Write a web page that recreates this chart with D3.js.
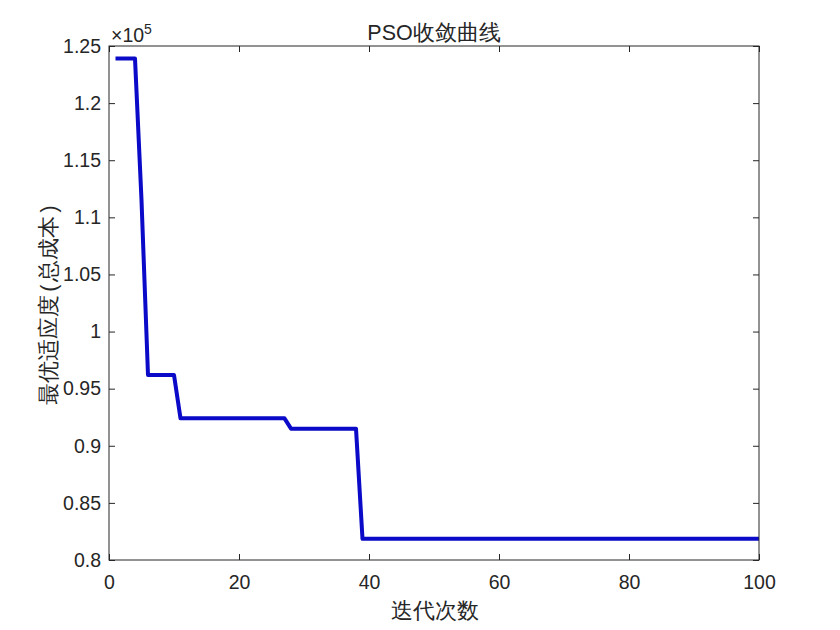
<!DOCTYPE html>
<html>
<head>
<meta charset="utf-8">
<script src="https://cdn.jsdelivr.net/npm/d3@7"></script>
<style>
  body { margin: 0; background: #fff; }
  text { font-family: 'Liberation Sans', Arial, sans-serif; fill: #262626; }
</style>
</head>
<body>
<div class="svg"></div>
<script>
const width = 840
const height = 630
const plotLeft = 109
const plotRight = 759
const plotTop = 46
const plotBottom = 560

// Data (best fitness per iteration)
const iterations = d3.range(1, 101)
const stepStarts = [1, 5, 6, 11, 28, 39]
const stepValues = [123900, 111500, 96200, 92400, 91500, 81850]
const xTicks = [0, 20, 40, 60, 80, 100]
const yTicks = [0.8, 0.85, 0.9, 0.95, 1, 1.05, 1.1, 1.15, 1.2, 1.25]

const fitness = iterations.map(it => {
  let v = stepValues[0]
  stepStarts.forEach((s, i) => { if (it >= s) v = stepValues[i] })
  return v
})

const svg = d3
  .select('.svg')
  .append('svg')
  .attr('width', width)
  .attr('height', height)

const xScale = d3.scaleLinear().domain([0, 100]).range([plotLeft, plotRight])
const yScale = d3.scaleLinear().domain([80000, 125000]).range([plotBottom, plotTop])

// line first, box drawn over it
const line = d3
  .line()
  .x((d, i) => xScale(iterations[i]))
  .y(d => yScale(d))

svg
  .append('path')
  .datum(fitness)
  .attr('d', line)
  .attr('fill', 'none')
  .attr('stroke', '#0a0ac8')
  .attr('stroke-width', 4)
  .attr('stroke-linejoin', 'round')

// axes box
svg
  .append('rect')
  .attr('x', plotLeft)
  .attr('y', plotTop)
  .attr('width', plotRight - plotLeft)
  .attr('height', plotBottom - plotTop)
  .attr('fill', 'none')
  .attr('stroke', '#262626')
  .attr('stroke-width', 1)

const xAxis = d3.axisBottom(xScale).tickValues(xTicks).tickSizeInner(-6).tickSizeOuter(0).tickPadding(15)
const yAxis = d3.axisLeft(yScale).tickValues(yTicks.map(d => d * 1e5)).tickFormat(d => d3.format('~g')(d / 1e5)).tickSizeInner(-6).tickSizeOuter(0).tickPadding(8)

const gx = svg.append('g').attr('transform', 'translate(0,' + plotBottom + ')').call(xAxis)
const gy = svg.append('g').attr('transform', 'translate(' + plotLeft + ',0)').call(yAxis)
// mirrored ticks on top and right
const gxt = svg.append('g').attr('transform', 'translate(0,' + plotTop + ')').call(d3.axisTop(xScale).tickValues(xTicks).tickSizeInner(-6).tickSizeOuter(0).tickFormat(''))
const gyr = svg.append('g').attr('transform', 'translate(' + plotRight + ',0)').call(d3.axisRight(yScale).tickValues(yTicks.map(d => d * 1e5)).tickSizeInner(-6).tickSizeOuter(0).tickFormat(''))

;[gx, gy, gxt, gyr].forEach(g => {
  g.select('.domain').remove()
  g.selectAll('line').attr('stroke', '#262626')
  g.selectAll('text').attr('font-size', 19.5).attr('fill', '#262626').attr('font-family', "'Liberation Sans', Arial, sans-serif")
})

// exponent
const expo = svg.append('text').attr('x', 111).attr('y', 42).attr('font-size', 19.5)
expo.append('tspan').text('×10')
expo.append('tspan').attr('font-size', 14).attr('dy', -8).text('5')

// titles
svg
  .append('text')
  .attr('x', 434)
  .attr('y', 40)
  .attr('text-anchor', 'middle')
  .attr('font-size', 21.5)
  .attr('font-family', "'Liberation Sans', 'Noto Sans CJK SC', sans-serif")
  .attr('fill', '#000')
  .text('PSO收敛曲线')

svg
  .append('text')
  .attr('x', 435)
  .attr('y', 618)
  .attr('text-anchor', 'middle')
  .attr('font-size', 21.5)
  .attr('font-family', "'Noto Sans CJK SC', sans-serif")
  .attr('font-weight', 300)
  .text('迭代次数')

const ylab = svg
  .append('text')
  .attr('transform', 'translate(56,305) rotate(-90)')
  .attr('text-anchor', 'middle')
  .attr('font-size', 21.5)
  .attr('font-family', "'Noto Sans CJK SC', sans-serif")
  .attr('font-weight', 300)
ylab.append('tspan').text('最优适应度')
ylab.append('tspan').attr('dx', 3).text('(')
ylab.append('tspan').attr('dx', 3).text('总成本')
ylab.append('tspan').attr('dx', 3).text(')')
</script>
</body>
</html>
